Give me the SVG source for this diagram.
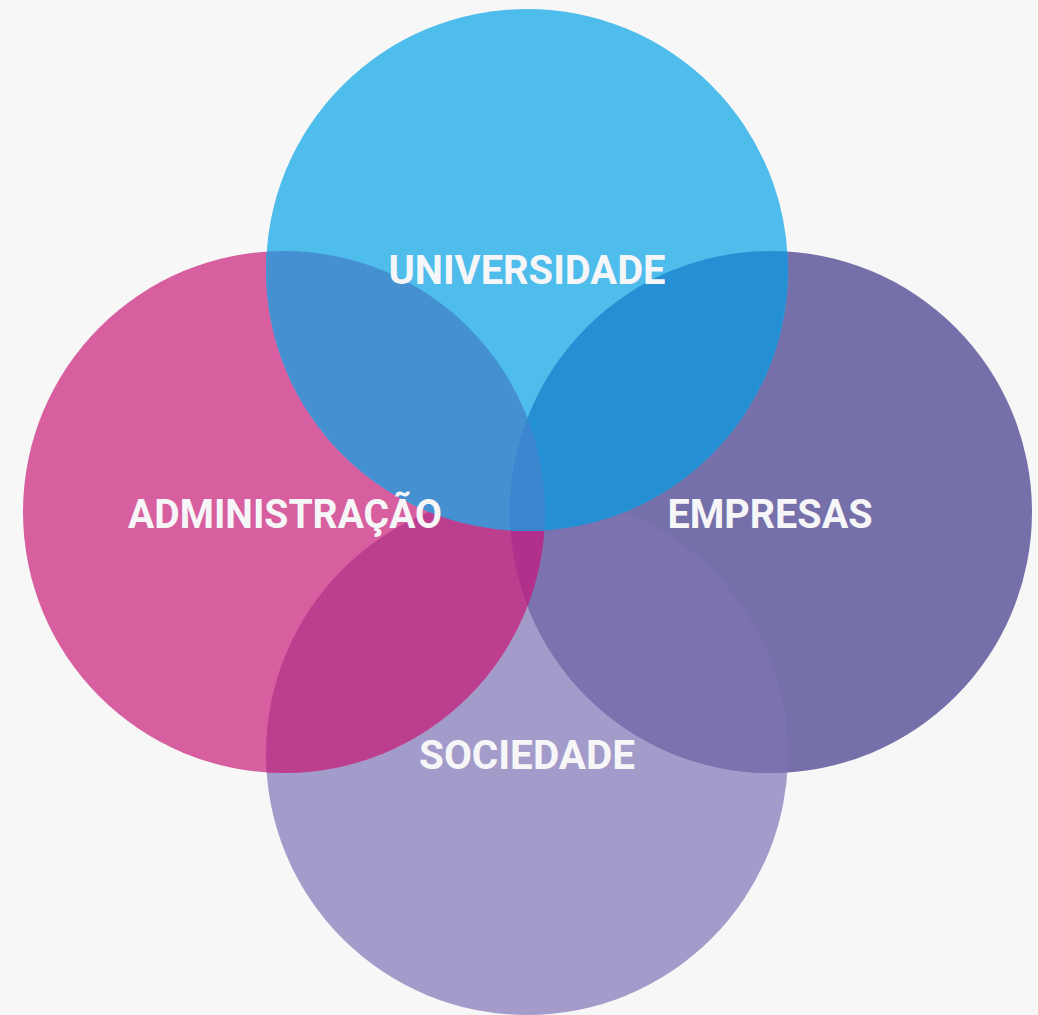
<svg xmlns="http://www.w3.org/2000/svg" width="1038" height="1015" viewBox="0 0 1038 1015">
<style>
.lbl{font-family:Roboto,"Liberation Sans",sans-serif;font-weight:bold;font-size:41px;fill:#f6f6f8;text-anchor:middle}
</style>
<defs>
<clipPath id="cT"><circle cx="527" cy="270" r="261"/></clipPath>
<clipPath id="cL"><circle cx="284" cy="512" r="261"/></clipPath>
<clipPath id="cR"><circle cx="771" cy="512" r="261"/></clipPath>
<clipPath id="cB"><circle cx="527" cy="754" r="261"/></clipPath>
<clipPath id="cTL" clip-path="url(#cT)"><circle cx="284" cy="512" r="261"/></clipPath>
<clipPath id="cTR" clip-path="url(#cT)"><circle cx="771" cy="512" r="261"/></clipPath>
<clipPath id="cLB" clip-path="url(#cL)"><circle cx="527" cy="754" r="261"/></clipPath>
<clipPath id="cRB" clip-path="url(#cR)"><circle cx="527" cy="754" r="261"/></clipPath>
</defs>
<rect width="1038" height="1015" fill="#f7f7f7"/>
<g id="sociedade">
<circle cx="527" cy="754" r="261" fill="#a39bc9"/>
</g>
<g id="empresas">
<circle cx="771" cy="512" r="261" fill="#7670aa"/>
</g>
<g id="administracao">
<circle cx="284" cy="512" r="261" fill="#d75fa0"/>
</g>
<g id="universidade">
<circle cx="527" cy="270" r="261" fill="#4ebdec"/>
</g>
<g id="overlaps">
<circle cx="527" cy="754" r="261" fill="#7d72b0" clip-path="url(#cR)"/>
<circle cx="527" cy="754" r="261" fill="#bb3f8e" clip-path="url(#cL)"/>
<circle cx="771" cy="512" r="261" fill="#b0308b" clip-path="url(#cLB)"/>
<circle cx="284" cy="512" r="261" fill="#4590d1" clip-path="url(#cT)"/>
<circle cx="771" cy="512" r="261" fill="#2490d3" clip-path="url(#cT)"/>
<circle cx="771" cy="512" r="261" fill="#3c86d0" clip-path="url(#cTL)"/>
</g>
<g id="labels">
<text class="lbl" x="527" y="284" textLength="277" lengthAdjust="spacingAndGlyphs">UNIVERSIDADE</text>
<text class="lbl" x="285" y="528" textLength="314" lengthAdjust="spacingAndGlyphs">ADMINISTRAÇÃO</text>
<text class="lbl" x="770" y="528" textLength="205" lengthAdjust="spacingAndGlyphs">EMPRESAS</text>
<text class="lbl" x="527" y="769" textLength="216" lengthAdjust="spacingAndGlyphs">SOCIEDADE</text>
</g>
</svg>
